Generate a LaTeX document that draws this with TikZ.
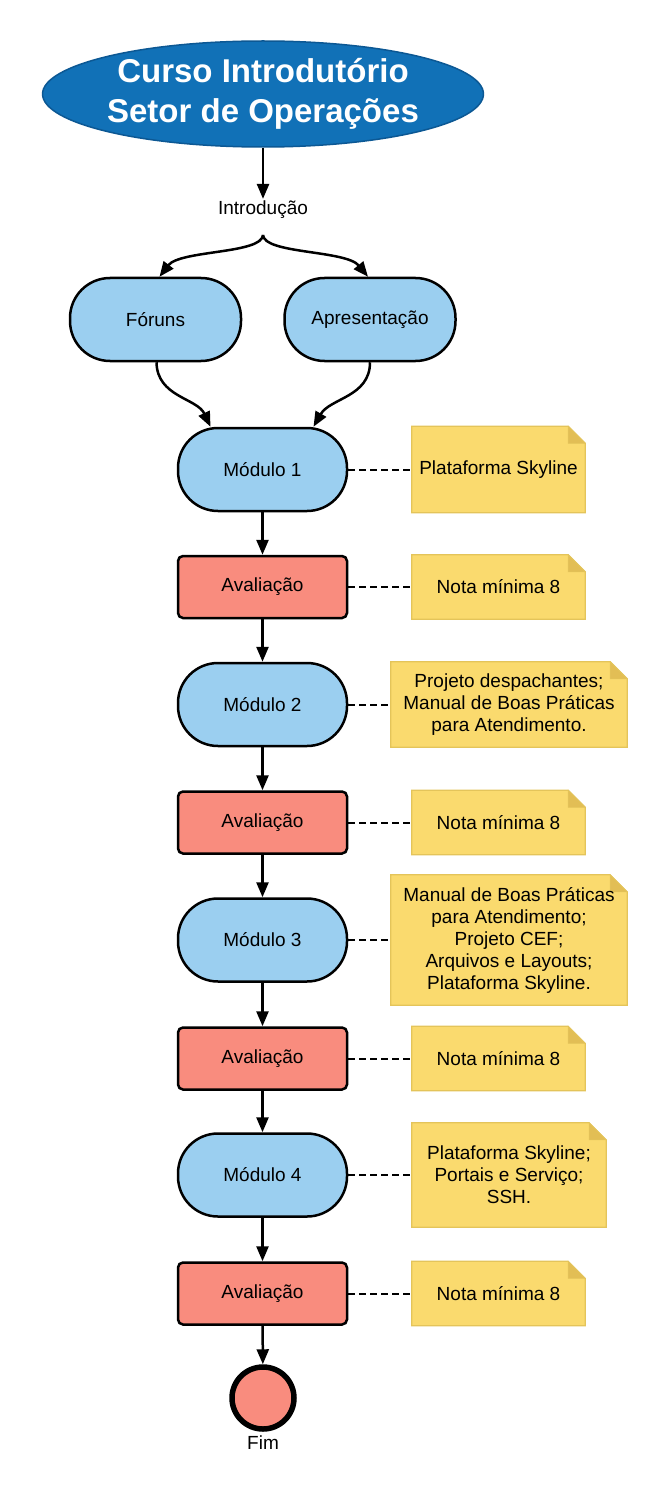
\documentclass[tikz,border=0pt]{standalone}
\usepackage{fontspec}
\setmainfont{Liberation Sans}
\usetikzlibrary{arrows.meta,shapes.geometric,backgrounds}
\definecolor{titlefill}{RGB}{17,113,183}
\definecolor{titleborder}{RGB}{12,88,148}
\definecolor{bluefill}{RGB}{155,207,240}
\definecolor{redfill}{RGB}{249,140,126}
\definecolor{notefill}{RGB}{250,218,110}
\definecolor{noteborder}{RGB}{228,196,90}
\definecolor{notefold}{RGB}{226,190,85}
\begin{document}
\begin{tikzpicture}[x=1pt,y=-1pt,
 every node/.style={font=\fontsize{19}{22}\selectfont, text=black, align=center, inner sep=0pt},
 stadium/.style={draw=black, line width=2.5pt, fill=bluefill, rounded corners=40pt, minimum width=169pt, minimum height=83pt},
 evalbox/.style={draw=black, line width=2.5pt, fill=redfill, rounded corners=5pt, minimum width=169pt, minimum height=62pt},
 notebox/.style={minimum width=173pt, minimum height=64pt},
 flow/.style={line width=2.5pt, -{Triangle[length=15pt,width=12pt]}},
 link/.style={line width=2pt, dash pattern=on 7pt off 4pt}
]
\path[use as bounding box] (0,0) rectangle (655,1487);

% title
\node[ellipse, draw=titleborder, line width=1.5pt, fill=titlefill, minimum width=428pt, minimum height=106pt,
  text=white, font=\fontsize{33}{40}\selectfont\bfseries] (title) at (263,94) {Curso Introdutório\\Setor de Operações};
\node (intro) at (263,210) {Introdução};
\coordinate (j) at (263,235);

% row of intro nodes
\node[stadium, minimum width=171pt] (fo) at (155.5,319.5) {Fóruns};
\node[stadium, minimum width=171pt] (ap) at (370,319.5) {Apresentação};

% main column
\node[stadium] (m1) at (262.5,469.5) {Módulo 1};
\node[evalbox] (a1) at (262.5,587) {Avaliação};
\node[stadium] (m2) at (262.5,704.5) {Módulo 2};
\node[evalbox] (a2) at (262.5,822.5) {Avaliação};
\node[stadium] (m3) at (262.5,940) {Módulo 3};
\node[evalbox] (a3) at (262.5,1058.5) {Avaliação};
\node[stadium] (m4) at (262.5,1175) {Módulo 4};
\node[evalbox] (a4) at (262.5,1293.5) {Avaliação};
\node[circle, draw=black, line width=5.5pt, fill=redfill, minimum size=62pt] (fim) at (263,1398) {};
\node (fimlabel) at (263,1443) {Fim};

% notes
\node[notebox, minimum height=86pt] (n1) at (498.5,469.5) {Plataforma Skyline};
\node[notebox] (e1) at (498.5,587) {Nota mínima 8};
\node[notebox, minimum width=236pt, minimum height=85pt] (n2) at (509,704.5) {Projeto despachantes;\\Manual de Boas Práticas\\para Atendimento.};
\node[notebox] (e2) at (498.5,822.5) {Nota mínima 8};
\node[notebox, minimum width=236pt, minimum height=130pt] (n3) at (509,940) {Manual de Boas Práticas\\para Atendimento;\\Projeto CEF;\\Arquivos e Layouts;\\Plataforma Skyline.};
\node[notebox] (e3) at (498.5,1058.5) {Nota mínima 8};
\node[notebox, minimum width=194pt, minimum height=104pt] (n4) at (509,1175) {Plataforma Skyline;\\Portais e Serviço;\\SSH.};
\node[notebox] (e4) at (498.5,1293.5) {Nota mínima 8};

\begin{scope}[on background layer]
\fill[white] (0,0) rectangle (655,1487);
\foreach \n in {n1,e1,n2,e2,n3,e3,n4,e4} {
  \filldraw[fill=notefill, draw=noteborder, line width=1.2pt]
    (\n.north west) -- ([xshift=-17pt]\n.north east) -- ([yshift=-17pt]\n.north east)
    -- (\n.south east) -- (\n.south west) -- cycle;
  \filldraw[fill=notefold, draw=noteborder, line width=0.6pt]
    ([xshift=-17pt]\n.north east) -- ([yshift=-17pt]\n.north east)
    -- ([xshift=-17pt,yshift=-17pt]\n.north east) -- cycle;
}
\end{scope}

% connectors
\draw[flow] (title) -- ([yshift=2pt]intro.north);
\draw[flow] (j) .. controls (262,254) and (180,250) .. ([xshift=4pt]fo.north);
\draw[flow] (j) .. controls (264,254) and (346,250) .. ([xshift=-2pt]ap.north);
\draw[flow] ([xshift=1pt]fo.south) .. controls (157,397) and (197,398) .. ([xshift=-52pt]m1.north);
\draw[flow] (ap.south) .. controls (370,397) and (330,398) .. ([xshift=51pt]m1.north);
\draw[flow] (m1) -- (a1);
\draw[flow] (a1) -- (m2);
\draw[flow] (m2) -- (a2);
\draw[flow] (a2) -- (m3);
\draw[flow] (m3) -- (a3);
\draw[flow] (a3) -- (m4);
\draw[flow] (m4) -- (a4);
\draw[flow] (a4) -- (fim);

\draw[link] (m1.east) -- (n1.west);
\draw[link] (a1.east) -- (e1.west);
\draw[link] (m2.east) -- (n2.west);
\draw[link] (a2.east) -- (e2.west);
\draw[link] (m3.east) -- (n3.west);
\draw[link] (a3.east) -- (e3.west);
\draw[link] (m4.east) -- (n4.west);
\draw[link] (a4.east) -- (e4.west);
\end{tikzpicture}
\end{document}
